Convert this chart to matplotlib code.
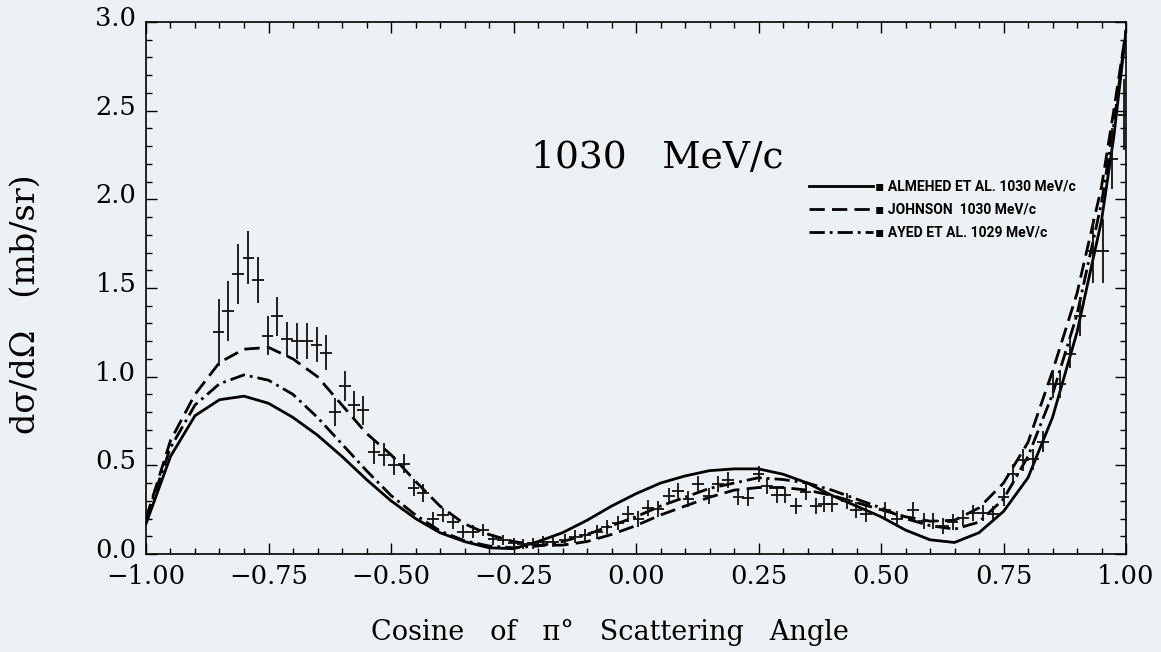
import numpy as np
import matplotlib
matplotlib.use("Agg")
import matplotlib.pyplot as plt
import matplotlib.transforms as mtransforms
from matplotlib.ticker import MultipleLocator

# ---------------- data ----------------
curve_x = [-1.00, -0.95, -0.90, -0.85, -0.80, -0.75, -0.70, -0.65, -0.60, -0.55,
           -0.50, -0.45, -0.40, -0.35, -0.30, -0.25, -0.20, -0.15, -0.10, -0.05,
           0.00, 0.05, 0.10, 0.15, 0.20, 0.25, 0.30, 0.35, 0.40, 0.45,
           0.50, 0.55, 0.60, 0.65, 0.70, 0.75, 0.80, 0.85, 0.90, 0.95, 0.975, 1.00]

almehed = [0.17, 0.55, 0.78, 0.87, 0.89, 0.85, 0.77, 0.67, 0.55, 0.42,
           0.30, 0.20, 0.12, 0.07, 0.035, 0.03, 0.07, 0.12, 0.19, 0.27,
           0.34, 0.40, 0.44, 0.47, 0.48, 0.48, 0.45, 0.40, 0.33, 0.27,
           0.21, 0.135, 0.08, 0.065, 0.12, 0.24, 0.43, 0.77, 1.25, 1.88, 2.35, 2.95]

johnson = [0.20, 0.64, 0.90, 1.08, 1.155, 1.165, 1.10, 1.00, 0.84, 0.68,
           0.56, 0.41, 0.27, 0.17, 0.11, 0.07, 0.05, 0.05, 0.07, 0.11,
           0.16, 0.22, 0.27, 0.32, 0.36, 0.375, 0.375, 0.36, 0.33, 0.29,
           0.25, 0.21, 0.185, 0.19, 0.26, 0.40, 0.63, 1.03, 1.47, 2.07, 2.50, 2.95]

ayed = [0.20, 0.60, 0.84, 0.96, 1.01, 0.98, 0.90, 0.77, 0.62, 0.47,
        0.33, 0.22, 0.13, 0.075, 0.045, 0.035, 0.045, 0.07, 0.11, 0.16,
        0.21, 0.27, 0.32, 0.37, 0.40, 0.43, 0.42, 0.40, 0.36, 0.31,
        0.26, 0.20, 0.16, 0.14, 0.18, 0.31, 0.55, 0.90, 1.35, 1.98, 2.42, 2.95]

data_x = [-0.852, -0.832, -0.812, -0.791, -0.771, -0.752, -0.732, -0.713, -0.692, -0.672,
          -0.652, -0.633, -0.614, -0.594, -0.575, -0.557, -0.535, -0.515, -0.494, -0.474,
          -0.454, -0.434, -0.414, -0.394, -0.374, -0.354, -0.333, -0.313, -0.291, -0.271,
          -0.250, -0.230, -0.210, -0.190, -0.170, -0.145, -0.124, -0.104, -0.080, -0.060,
          -0.036, -0.016, 0.005, 0.025, 0.045, 0.067, 0.086, 0.107, 0.127, 0.148,
          0.168, 0.188, 0.209, 0.229, 0.250, 0.268, 0.287, 0.305, 0.326, 0.346,
          0.367, 0.384, 0.400, 0.430, 0.449, 0.469, 0.508, 0.532, 0.566, 0.587,
          0.607, 0.627, 0.646, 0.668, 0.688, 0.709, 0.729, 0.750, 0.770, 0.790,
          0.811, 0.831, 0.852, 0.865, 0.886, 0.906, 0.932, 0.954, 0.971, 0.995]

data_y = [1.25, 1.37, 1.58, 1.67, 1.545, 1.23, 1.34, 1.21, 1.20, 1.20,
          1.18, 1.135, 0.80, 0.945, 0.84, 0.81, 0.575, 0.56, 0.50, 0.51,
          0.375, 0.345, 0.196, 0.22, 0.182, 0.126, 0.126, 0.135, 0.083, 0.079,
          0.060, 0.056, 0.060, 0.070, 0.070, 0.080, 0.098, 0.107, 0.126, 0.154,
          0.173, 0.225, 0.200, 0.262, 0.253, 0.328, 0.358, 0.310, 0.395, 0.328,
          0.395, 0.418, 0.324, 0.318, 0.450, 0.385, 0.330, 0.334, 0.270, 0.350,
          0.270, 0.280, 0.280, 0.300, 0.250, 0.225, 0.250, 0.200, 0.250, 0.185,
          0.185, 0.158, 0.178, 0.203, 0.229, 0.229, 0.225, 0.320, 0.450, 0.530,
          0.533, 0.634, 0.958, 0.958, 1.130, 1.340, 1.707, 1.707, 2.230, 2.477]

data_err = [0.19, 0.17, 0.17, 0.15, 0.13, 0.11, 0.11, 0.10, 0.10, 0.10,
            0.10, 0.10, 0.08, 0.085, 0.08, 0.08, 0.065, 0.065, 0.055, 0.055,
            0.05, 0.05, 0.04, 0.04, 0.04, 0.038, 0.038, 0.035, 0.03, 0.03,
            0.03, 0.03, 0.03, 0.03, 0.03, 0.03, 0.035, 0.035, 0.04, 0.04,
            0.04, 0.045, 0.045, 0.045, 0.045, 0.045, 0.045, 0.045, 0.045, 0.045,
            0.045, 0.045, 0.045, 0.045, 0.045, 0.045, 0.045, 0.045, 0.045, 0.045,
            0.045, 0.045, 0.045, 0.045, 0.045, 0.045, 0.045, 0.045, 0.045, 0.045,
            0.045, 0.045, 0.045, 0.045, 0.045, 0.045, 0.045, 0.05, 0.06, 0.06,
            0.06, 0.06, 0.08, 0.08, 0.08, 0.11, 0.18, 0.18, 0.17, 0.20]

x_ticks = [-1.00, -0.75, -0.50, -0.25, 0.00, 0.25, 0.50, 0.75, 1.00]
x_ticklabels = ["\u22121.00", "\u22120.75", "\u22120.50", "\u22120.25", "0.00",
                "0.25", "0.50", "0.75", "1.00"]
y_ticks = [0.0, 0.5, 1.0, 1.5, 2.0, 2.5, 3.0]
y_ticklabels = ["0.0", "0.5", "1.0", "1.5", "2.0", "2.5", "3.0"]

legend_labels = ["ALMEHED ET AL. 1030 MeV/c", "JOHNSON  1030 MeV/c", "AYED ET AL. 1029 MeV/c"]

# ---------------- figure ----------------
bg = "#eef1f3"
fig = plt.figure(figsize=(11.61, 6.52), dpi=100, facecolor=bg)
ax = fig.add_axes([146/1161, 1-554/652, 980/1161, 532/652])
ax.set_facecolor(bg)

serif = ["DejaVu Serif"]

lw = 2.0
styles = [None, (5.5, 2.6), (5.5, 1.8, 1.0, 1.8)]
for yv, st in zip([almehed, johnson, ayed], styles):
    if st is None:
        ax.plot(curve_x, yv, color="black", lw=lw)
    else:
        ax.plot(curve_x, yv, color="black", lw=lw, dashes=st)

ax.errorbar(data_x, data_y, yerr=data_err, xerr=0.012, fmt="none",
            ecolor="#111111", elinewidth=1.3, capsize=0)

ax.set_xlim(-1.0, 1.0)
ax.set_ylim(0.0, 3.0)
ax.set_xticks(x_ticks)
ax.set_xticklabels(x_ticklabels, family=serif, fontsize=18.5)
ax.set_yticks(y_ticks)
ax.set_yticklabels(y_ticklabels, family=serif, fontsize=18.5)
ax.xaxis.set_minor_locator(MultipleLocator(0.05))
ax.yaxis.set_minor_locator(MultipleLocator(0.1))
ax.tick_params(which="both", direction="in", top=True, right=True, width=1.0)
ax.tick_params(which="major", length=8, pad=7)
ax.tick_params(which="minor", length=4)
for s in ax.spines.values():
    s.set_linewidth(1.2)

# y tick labels sit slightly above their ticks in the reference
up = mtransforms.ScaledTranslation(0, 0.06, fig.dpi_scale_trans)
for lab in ax.get_yticklabels():
    lab.set_transform(lab.get_transform() + up)

ax.set_xlabel("Cosine   of   \u03c0\u00b0   Scattering   Angle", family=serif,
              fontsize=19.5)
ax.xaxis.set_label_coords(0.473, -0.122)
ax.set_ylabel("d\u03c3/d\u03a9   (mb/sr)", family=serif, fontsize=24)
ax.yaxis.set_label_coords(-0.106, 0.47)

ax.text(0.522, 0.745, "1030   MeV/c", transform=ax.transAxes, ha="center",
        va="center", family=serif, fontsize=27)

# legend drawn manually (line sample + text)
leg_rows = [0.691, 0.648, 0.605]
for st, lab, yy in zip(styles, legend_labels, leg_rows):
    kw = dict(transform=ax.transAxes, color="black", lw=lw)
    if st is not None:
        kw["dashes"] = st
    ax.plot([0.677, 0.742], [yy, yy], **kw)
    ax.text(0.744, yy, "\u25aa " + lab, transform=ax.transAxes, ha="left",
            va="center", family=["Roboto", "DejaVu Sans"], fontweight="bold",
            fontsize=10)

fig.savefig("out.png", dpi=100, facecolor=bg)
